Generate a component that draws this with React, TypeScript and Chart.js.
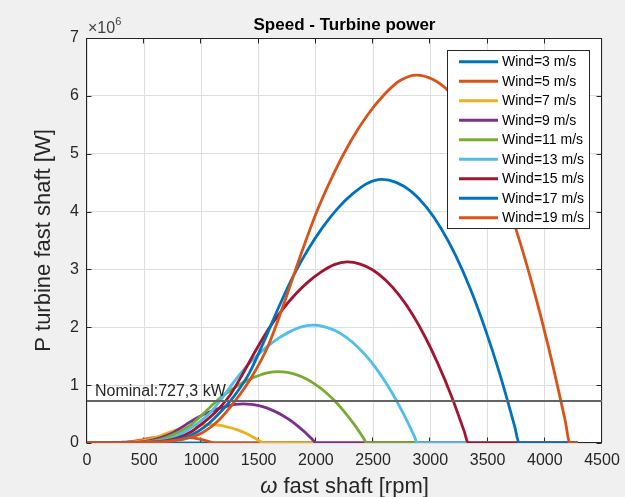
import React, { useEffect, useRef } from 'react';
import { Chart, registerables } from 'chart.js';

Chart.register(...registerables);

// ---------------- data (rpm on fast shaft, power in MW -> axis shows x10^6 W) ----------------
const windLabels = ['Wind=3 m/s', 'Wind=5 m/s', 'Wind=7 m/s', 'Wind=9 m/s', 'Wind=11 m/s', 'Wind=13 m/s', 'Wind=15 m/s', 'Wind=17 m/s', 'Wind=19 m/s'];
const windColors = ['#0072BD', '#D95319', '#EDB120', '#7E2F8E', '#77AC30', '#4DBEEE', '#A2142F', '#0072BD', '#D95319'];

const rpm3 = [0, 182, 273, 364, 455, 546, 637, 666, 4290];
const pow3 = [0, 0.002, 0.010, 0.021, 0.025, 0.020, 0.007, 0, 0];

const rpm5 = [0, 227, 303, 379, 455, 531, 606, 682, 758, 834, 910, 985, 1061, 1110, 4290];
const pow5 = [0, 0.001, 0.007, 0.021, 0.045, 0.074, 0.095, 0.110, 0.116, 0.111, 0.094, 0.068, 0.030, 0, 0];

const rpm7 = [0, 212, 265, 318, 371, 425, 478, 531, 584, 637, 690, 743, 796, 849, 902, 955, 1008, 1061, 1112, 1163, 1214, 1265, 1316, 1367, 1418, 1469, 1522, 1541, 4290];
const pow7 = [0, 0.001, 0.002, 0.004, 0.009, 0.020, 0.037, 0.057, 0.084, 0.122, 0.164, 0.202, 0.234, 0.261, 0.283, 0.301, 0.313, 0.318, 0.314, 0.303, 0.285, 0.259, 0.226, 0.186, 0.138, 0.083, 0.020, 0, 0];

const rpm9 = [0, 273, 341, 409, 478, 546, 614, 682, 750, 819, 887, 955, 1023, 1092, 1160, 1228, 1296, 1364, 1433, 1501, 1569, 1637, 1706, 1774, 1842, 1910, 1978, 1999, 4290];
const pow9 = [0, 0.001, 0.003, 0.008, 0.019, 0.042, 0.078, 0.122, 0.179, 0.260, 0.348, 0.429, 0.497, 0.554, 0.602, 0.639, 0.666, 0.676, 0.668, 0.645, 0.606, 0.551, 0.481, 0.395, 0.293, 0.176, 0.043, 0, 0];

const rpm11 = [0, 334, 417, 500, 584, 667, 750, 834, 917, 1001, 1084, 1167, 1251, 1334, 1418, 1501, 1584, 1668, 1751, 1834, 1918, 2001, 2085, 2168, 2251, 2335, 2418, 2443, 4290];
const pow11 = [0, 0.002, 0.006, 0.015, 0.035, 0.077, 0.142, 0.222, 0.327, 0.475, 0.636, 0.784, 0.907, 1.012, 1.098, 1.166, 1.216, 1.234, 1.219, 1.177, 1.106, 1.006, 0.878, 0.721, 0.534, 0.321, 0.078, 0, 0];

const rpm13 = [0, 394, 493, 591, 690, 788, 887, 985, 1084, 1183, 1281, 1380, 1478, 1577, 1675, 1774, 1872, 1971, 2069, 2168, 2266, 2365, 2464, 2562, 2661, 2759, 2858, 2887, 4290];
const pow13 = [0, 0.004, 0.010, 0.024, 0.057, 0.126, 0.234, 0.367, 0.540, 0.784, 1.049, 1.294, 1.497, 1.671, 1.813, 1.925, 2.007, 2.037, 2.013, 1.944, 1.825, 1.660, 1.449, 1.190, 0.882, 0.530, 0.128, 0, 0];

const rpm15 = [0, 455, 569, 682, 796, 910, 1023, 1137, 1251, 1364, 1478, 1592, 1706, 1819, 1933, 2047, 2160, 2274, 2388, 2501, 2615, 2729, 2843, 2956, 3070, 3184, 3297, 3331, 4290];
const pow15 = [0, 0.006, 0.016, 0.038, 0.088, 0.194, 0.360, 0.563, 0.829, 1.205, 1.612, 1.987, 2.300, 2.566, 2.785, 2.957, 3.083, 3.130, 3.092, 2.986, 2.804, 2.551, 2.225, 1.828, 1.355, 0.814, 0.197, 0, 0];

const rpm17 = [0, 515, 644, 773, 902, 1031, 1160, 1289, 1418, 1546, 1675, 1804, 1933, 2062, 2191, 2320, 2448, 2577, 2706, 2835, 2964, 3093, 3222, 3350, 3479, 3608, 3737, 3776, 4290];
const pow17 = [0, 0.009, 0.023, 0.055, 0.128, 0.282, 0.524, 0.820, 1.207, 1.754, 2.346, 2.893, 3.349, 3.736, 4.055, 4.305, 4.487, 4.556, 4.501, 4.346, 4.082, 3.713, 3.239, 2.661, 1.973, 1.185, 0.287, 0, 0];

const rpm19 = [0, 576, 720, 864, 1008, 1152, 1296, 1440, 1584, 1728, 1872, 2016, 2160, 2304, 2448, 2592, 2736, 2880, 3024, 3168, 3312, 3456, 3601, 3745, 3889, 4033, 4177, 4220, 4290];
const pow19 = [0, 0.013, 0.032, 0.076, 0.178, 0.394, 0.731, 1.145, 1.686, 2.449, 3.276, 4.039, 4.675, 5.216, 5.661, 6.011, 6.265, 6.360, 6.284, 6.068, 5.699, 5.184, 4.522, 3.715, 2.754, 1.654, 0.401, 0, 0];

const rpmSeries = [rpm3, rpm5, rpm7, rpm9, rpm11, rpm13, rpm15, rpm17, rpm19];
const powSeries = [pow3, pow5, pow7, pow9, pow11, pow13, pow15, pow17, pow19];

const nominalPower = 0.7273; // MW
const nominalRange = [0, 4500];
const nominalText = 'Nominal:727,3 kW';

const xTicks = [0, 500, 1000, 1500, 2000, 2500, 3000, 3500, 4000, 4500];
const yTicks = [0, 1, 2, 3, 4, 5, 6, 7];

const titleText = 'Speed - Turbine power';
const yLabelText = 'P turbine fast shaft [W]';

const FONT = '"Liberation Sans", Arial, Helvetica, sans-serif';
const AX = '#262626';

const decorPlugin = {
  id: 'decor',
  beforeDraw(chart: any) {
    const { ctx, chartArea: a } = chart;
    ctx.save();
    ctx.fillStyle = '#ffffff';
    ctx.fillRect(a.left, a.top, a.right - a.left, a.bottom - a.top);
    ctx.restore();
  },
  beforeDatasetsDraw(chart: any) {
    const { ctx, chartArea: a, scales } = chart;
    const xs = scales.x, ys = scales.y;
    ctx.save();
    ctx.strokeStyle = AX;
    ctx.lineWidth = 1;
    const L = Math.round(a.left) - 0.5, R = Math.round(a.right) - 0.5;
    const T = Math.round(a.top) + 0.5, B = Math.round(a.bottom) - 0.5;
    ctx.strokeRect(L, T, R - L, B - T);
    ctx.beginPath();
    const tl = 5;
    xTicks.forEach((v) => {
      const px = Math.round(xs.getPixelForValue(v)) - 0.5;
      ctx.moveTo(px, B); ctx.lineTo(px, B - tl);
      ctx.moveTo(px, T); ctx.lineTo(px, T + tl);
    });
    yTicks.forEach((v) => {
      const py = Math.round(ys.getPixelForValue(v)) + 0.5;
      ctx.moveTo(L, py); ctx.lineTo(L + tl, py);
      ctx.moveTo(R, py); ctx.lineTo(R - tl, py);
    });
    ctx.stroke();
    ctx.restore();
  },
  afterDraw(chart: any) {
    const { ctx, chartArea: a, scales } = chart;
    const xs = scales.x, ys = scales.y;
    ctx.save();
    // title
    ctx.fillStyle = '#000';
    ctx.font = `bold 17px ${FONT}`;
    ctx.textAlign = 'center';
    ctx.textBaseline = 'alphabetic';
    ctx.fillText(titleText, (a.left + a.right) / 2, 30);

    // exponent label
    ctx.fillStyle = '#404040';
    ctx.textAlign = 'left';
    ctx.font = `16px ${FONT}`;
    ctx.fillText('\u00D710', a.left + 1, 33);
    const w10 = ctx.measureText('\u00D710').width;
    ctx.font = `11px ${FONT}`;
    ctx.fillText('6', a.left + 1 + w10, 25);

    // x label
    ctx.fillStyle = AX;
    ctx.font = `italic 22px ${FONT}`;
    const wOm = ctx.measureText('\u03C9').width;
    ctx.font = `22px ${FONT}`;
    const rest = ' fast shaft [rpm]';
    const wRest = ctx.measureText(rest).width;
    const cx = (a.left + a.right) / 2;
    const x0 = cx - (wOm + wRest) / 2;
    ctx.font = `italic 22px ${FONT}`;
    ctx.fillText('\u03C9', x0, 493);
    ctx.font = `22px ${FONT}`;
    ctx.fillText(rest, x0 + wOm, 493);

    // y label
    ctx.save();
    ctx.translate(50, (a.top + a.bottom) / 2);
    ctx.rotate(-Math.PI / 2);
    ctx.textAlign = 'center';
    ctx.font = `22px ${FONT}`;
    ctx.fillText(yLabelText, 0, 0);
    ctx.restore();

    // nominal text
    ctx.fillStyle = AX;
    ctx.font = `16px ${FONT}`;
    ctx.textAlign = 'left';
    ctx.fillText(nominalText, xs.getPixelForValue(70), ys.getPixelForValue(nominalPower) - 5);

    // legend
    const lx = 447, ly = 50, lw = 143, lh = 179;
    ctx.fillStyle = '#fff';
    ctx.fillRect(lx, ly, lw, lh);
    ctx.strokeStyle = AX;
    ctx.lineWidth = 1;
    ctx.strokeRect(lx + 0.5, ly + 0.5, lw - 1, lh - 1);
    ctx.font = `14px ${FONT}`;
    ctx.textBaseline = 'middle';
    windLabels.forEach((lab, i) => {
      const y = 61.7 + i * 19.5;
      ctx.strokeStyle = windColors[i];
      ctx.lineWidth = 3;
      ctx.beginPath();
      ctx.moveTo(459, y);
      ctx.lineTo(498, y);
      ctx.stroke();
      ctx.fillStyle = '#000';
      ctx.fillText(lab, 502, y + 0.5);
    });
    ctx.restore();
  },
};

export default function App() {
  const ref = useRef<HTMLCanvasElement>(null);
  useEffect(() => {
    if (!ref.current) return;
    const datasets: any[] = rpmSeries.map((rpms, i) => ({
      label: windLabels[i],
      data: rpms.map((r, k) => ({ x: r, y: powSeries[i][k] })),
      borderColor: windColors[i],
      backgroundColor: windColors[i],
      borderWidth: 2.8,
      pointRadius: 0,
      cubicInterpolationMode: 'monotone',
      fill: false,
      order: 9 - i + 1,
    }));
    datasets.push({
      label: 'Nominal',
      data: nominalRange.map((r) => ({ x: r, y: nominalPower })),
      borderColor: 'rgb(100,100,100)',
      borderWidth: 2,
      pointRadius: 0,
      fill: false,
      order: 0,
    });
    const chart = new Chart(ref.current, {
      type: 'line',
      data: { datasets },
      plugins: [decorPlugin],
      options: {
        responsive: false,
        animation: false,
        devicePixelRatio: 1,
        layout: { padding: { left: 0, right: 23, top: 38, bottom: 0 } },
        plugins: {
          legend: { display: false },
          title: { display: false },
          tooltip: { enabled: false },
        },
        scales: {
          x: {
            type: 'linear',
            min: 0,
            max: 4500,
            afterBuildTicks: (s: any) => { s.ticks = xTicks.map((v) => ({ value: v })); },
            ticks: { color: AX, font: { family: FONT, size: 16 }, padding: 8, maxRotation: 0, autoSkip: false, callback: (v: any) => String(v) },
            grid: { color: '#dedede', drawTicks: false, lineWidth: 1 },
            border: { display: false },
            afterFit: (s: any) => { s.height = 54; s.paddingLeft = 0; s.paddingRight = 0; },
          },
          y: {
            type: 'linear',
            min: 0,
            max: 7,
            afterBuildTicks: (s: any) => { s.ticks = yTicks.map((v) => ({ value: v })); },
            ticks: { color: AX, font: { family: FONT, size: 16 }, padding: 8, autoSkip: false, callback: (v: any) => String(v) },
            grid: { color: '#dedede', drawTicks: false, lineWidth: 1 },
            border: { display: false },
            afterFit: (s: any) => { s.width = 87; s.paddingTop = 0; s.paddingBottom = 0; },
          },
        },
      },
    } as any);
    return () => chart.destroy();
  }, []);
  return (
    <div style={{ position: 'fixed', left: 0, top: 0, width: 625, height: 497, background: '#f0f0f0' }}>
      <canvas ref={ref} width={625} height={497} style={{ display: 'block', width: 625, height: 497 }} />
    </div>
  );
}
